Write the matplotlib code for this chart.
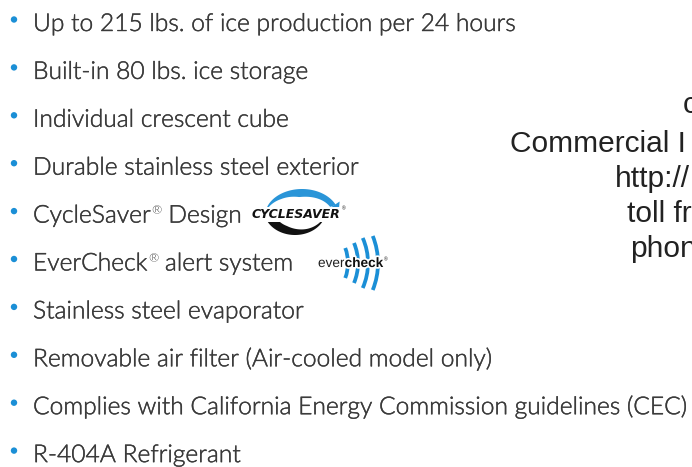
import numpy as np
import matplotlib
matplotlib.use("Agg")
import matplotlib.pyplot as plt
from matplotlib.patches import Circle, Polygon, Arc
import matplotlib.patheffects as pe

# ---- content ----
bullet_items = [
    ("Up to 215 lbs. of ice production per 24 hours", None),
    ("Built-in 80 lbs. ice storage", None),
    ("Individual crescent cube", None),
    ("Durable stainless steel exterior", None),
    ("CycleSaver", "® Design"),
    ("EverCheck", "® alert system"),
    ("Stainless steel evaporator", None),
    ("Removable air filter (Air-cooled model only)", None),
    ("Complies with California Energy Commission guidelines (CEC)", None),
    ("R-404A Refrigerant", None),
]
right_lines = ["c", "Commercial I", "http://", "toll fr", "phon"]
right_x = [683, 510, 615, 627, 630]

W, H = 692, 467
fig = plt.figure(figsize=(W / 100, H / 100), dpi=100)
ax = fig.add_axes([0, 0, 1, 1])
ax.set_xlim(0, W)
ax.set_ylim(H, 0)
ax.axis("off")

TXT = "#3a3a3a"
BLUE = "#1b8fd6"
FS = 17.7
FAM = "Lato"
WT = 300
thick = [pe.withStroke(linewidth=0.3, foreground=TXT)]

renderer = fig.canvas.get_renderer()
inv = ax.transData.inverted()

def extent(t):
    bb = t.get_window_extent(renderer=renderer)
    (x0, y0), (x1, y1) = inv.transform((bb.x0, bb.y0)), inv.transform((bb.x1, bb.y1))
    return x0, x1

base0, step = 31, 47.9
for i, (main, tail) in enumerate(bullet_items):
    yb = base0 + step * i
    ax.add_patch(Circle((14, yb - 11.5), 3.2, color=BLUE, lw=0))
    t = ax.text(33, yb, main, fontsize=FS, family=FAM, fontweight=WT,
                color=TXT, va="baseline", ha="left", path_effects=thick)
    if tail:
        x = extent(t)[1] + 0.5
        r = ax.text(x, yb - 8, "®", fontsize=FS * 0.5, family=FAM,
                    fontweight=WT, color=TXT, va="baseline", ha="left")
        x2 = extent(r)[1]
        ax.text(x2, yb, tail[1:], fontsize=FS, family=FAM, fontweight=WT,
                color=TXT, va="baseline", ha="left", path_effects=thick)

# ---- right column (cut off at the edge) ----
right_base = [113, 152, 187, 222, 257]
for s, x, yb in zip(right_lines, right_x, right_base):
    ax.text(x, yb, s, fontsize=21.5, family="Liberation Sans", color="#222222",
            va="baseline", ha="left", clip_on=True)

# ---- CycleSaver logo ----
def swoosh(cx, cy, a, b, t0, t1, wprof, upper, color, hw=7, hl=10):
    t = np.radians(np.linspace(t0, t1, 80))
    s = -1 if upper else 1
    ox = cx + a * np.cos(t)
    oy = cy + s * b * np.sin(t)
    w = np.interp(np.linspace(0, 1, len(t)), np.linspace(0, 1, len(wprof)), wprof)
    r = np.hypot(ox - cx, oy - cy)
    ix = cx + (ox - cx) * (1 - w / r)
    iy = cy + (oy - cy) * (1 - w / r)
    pts = np.vstack([np.column_stack([ox, oy]), np.column_stack([ix, iy])[::-1]])
    ax.add_patch(Polygon(pts, closed=True, color=color, lw=0))
    mx, my = (ox[-1] + ix[-1]) / 2, (oy[-1] + iy[-1]) / 2
    dx, dy = ox[-1] - ox[-3], oy[-1] - oy[-3]
    n = np.hypot(dx, dy); dx, dy = dx / n, dy / n
    px, py = -dy, dx
    tri = [(mx + px * hw, my + py * hw), (mx - px * hw, my - py * hw),
           (mx + dx * hl, my + dy * hl)]
    ax.add_patch(Polygon(tri, closed=True, color=color, lw=0))

swoosh(302, 216, 37, 27, 168, 24, [0.5, 5, 8, 7, 6], True, "#2a95d8", hw=8, hl=10)
swoosh(295, 210, 31, 25, 15, 160, [0.5, 4, 8, 10], False, "#111111", hw=9, hl=9)
cs = ax.text(296, 218, "CYCLESAVER", fontsize=9.0, family="Liberation Sans Narrow",
             fontweight="bold", style="italic", color="#111111",
             ha="center", va="baseline")
cs.set_bbox(dict(facecolor="white", edgecolor="none", pad=0.6))
ax.text(extent(cs)[1] + 1.5, 210, "®", fontsize=3.5, family="Liberation Sans",
        color="#111111", ha="left", va="baseline")

# ---- EverCheck logo ----
ecx, ecy = 306, 263
for rad, half in zip([42, 52, 62, 72], [15, 20, 25, 27]):
    ang = np.degrees(np.arcsin(min(0.95, half / rad)))
    ax.add_patch(Arc((ecx, ecy), 2 * rad, 2 * rad, theta1=-ang, theta2=ang,
                     color=BLUE, lw=2.7))
stroke = [pe.withStroke(linewidth=2.5, foreground="white")]
e1 = ax.text(318, 267, "ever", fontsize=9.8, family="Liberation Sans",
             color="#222222", ha="left", va="baseline", path_effects=stroke)
x = extent(e1)[1]
e2 = ax.text(x, 267, "check", fontsize=9.8, family="Liberation Sans",
             fontweight="bold", color="#111111", ha="left", va="baseline",
             path_effects=stroke)
x = extent(e2)[1]
ax.text(x + 0.5, 261, "®", fontsize=3.5, family="Liberation Sans",
        color="#111111", ha="left", va="baseline")

fig.savefig("out.png", dpi=100, facecolor="white")
